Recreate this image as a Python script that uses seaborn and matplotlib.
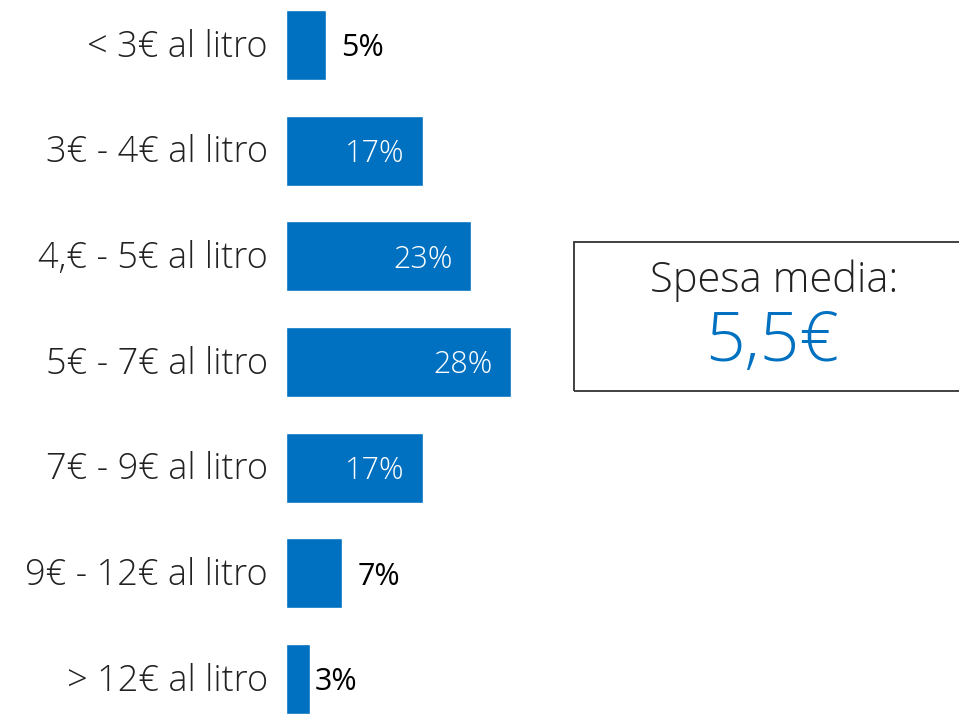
import matplotlib
matplotlib.use("Agg")
import matplotlib.pyplot as plt
import seaborn as sns
import pandas as pd
from matplotlib.patches import Rectangle

categories = ["< 3€ al litro", "3€ - 4€ al litro", "4,€ - 5€ al litro", "5€ - 7€ al litro",
              "7€ - 9€ al litro", "9€ - 12€ al litro", "> 12€ al litro"]
values = [5, 17, 23, 28, 17, 7, 3]
box_title = "Spesa media:"
box_value = "5,5€"

BLUE = "#0070C0"
TEXT = "#222222"

sns.set_theme(style="white")
plt.rcParams["font.family"] = ["Open Sans", "DejaVu Sans"]

df = pd.DataFrame({"cat": categories, "val": values})

fig = plt.figure(figsize=(9.59, 7.15), dpi=100)
W, H = 959, 715
ax = fig.add_axes([286 / W, 0, 1 - 286 / W, 1])
sns.barplot(data=df, x="val", y="cat", orient="h", color=BLUE, width=0.66,
            saturation=1, ax=ax, order=categories)

px_per_unit = 8.04
ax.set_xlim(0, (W - 286) / px_per_unit)
ax.set_ylim(6 + 36 / 105.67, -45 / 105.67)
ax.axis("off")

# category labels (right aligned left of the bars)
for i, c in enumerate(categories):
    ax.annotate(c, xy=(0, i + 0.02), xytext=(-13, 0), textcoords="offset points",
                ha="right", va="center", fontsize=26, color=TEXT,
                fontweight="light", annotation_clip=False)

# value labels
for i, v in enumerate(values):
    if v >= 10:
        ax.annotate(f"{v}%", xy=(v, i + 0.03), xytext=(-13, 0), textcoords="offset points",
                    ha="right", va="center", fontsize=22, color="white", fontweight="light")
    else:
        off = 3 if v < 4 else 11
        ax.annotate(f"{v}%", xy=(v, i + 0.03), xytext=(off, 0), textcoords="offset points",
                    ha="left", va="center", fontsize=22, color="black")

# summary box
rect = Rectangle((574 / W, 1 - 391 / H), (970 - 574) / W, (391 - 242) / H,
                 transform=fig.transFigure, fill=False, edgecolor="#333333",
                 linewidth=1.3, clip_on=False)
fig.add_artist(rect)
fig.text(774 / W, 1 - 281 / H, box_title, ha="center", va="center",
         fontsize=30, color=TEXT, fontweight="light")
fig.text(772 / W, 1 - 343 / H, box_value, ha="center", va="center",
         fontsize=50, color=BLUE, fontweight="light")

fig.savefig("out.png", dpi=100)
